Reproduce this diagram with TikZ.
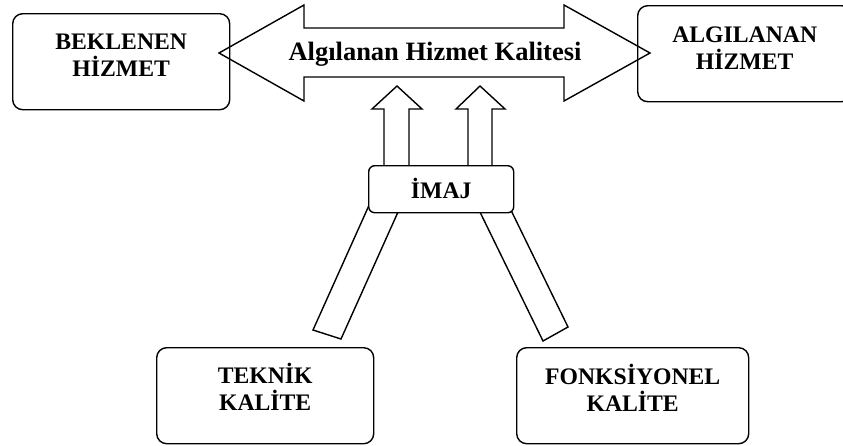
\documentclass[tikz,border=0pt]{standalone}
\usepackage{fontspec}
\setmainfont{Liberation Serif}
\begin{document}
\begin{tikzpicture}[x=1pt,y=-1pt, line width=1.4pt, line join=miter,
  box/.style={draw, rounded corners=10pt, inner sep=0pt, anchor=north west},
  lbl/.style={font=\fontsize{23.7}{27}\selectfont\bfseries, align=center, anchor=base, inner sep=0pt},
  bigarrow/.style={draw},
  blockarrow/.style={draw}]
\useasboundingbox (0,0) rectangle (843,445);
\fill[white] (0,0) rectangle (843,445);
\clip (0,0) rectangle (843,445);

% outer boxes
\node[box, minimum width=217pt, minimum height=96pt] (bek) at (12,13) {};
\node[box, minimum width=214pt, minimum height=96pt] (alg) at (637,5) {};
\node[box, minimum width=217pt, minimum height=96pt] (tek) at (156,347) {};
\node[box, minimum width=232pt, minimum height=96pt] (fon) at (516,347) {};

% box texts (base = baseline of the last line)
\node[lbl] (bekT) at ([yshift=-63pt]bek.north) {BEKLENEN\\HİZMET};
\node[lbl] (algT) at ([yshift=-64pt]alg.north) {ALGILANAN\\HİZMET};
\node[lbl] (tekT) at ([yshift=-63pt]tek.north) {TEKNİK\\KALİTE};
\node[lbl] (fonT) at ([yshift=-64pt]fon.north) {FONKSİYONEL\\KALİTE};

% big double arrow
\draw[bigarrow] (219,53) -- (304,5) -- (304,28) -- (564,28) -- (564,5) -- (650,53)
  -- (564,101) -- (564,77) -- (304,77) -- (304,101) -- cycle;
\node[font=\fontsize{26.5}{30}\selectfont\bfseries, anchor=base, inner sep=0pt] (aq) at (435,60) {Algılanan Hizmet Kalitesi};

% up arrows
\draw[blockarrow] (384,168) -- (384,109) -- (372,109) -- (397,86) -- (422,109) -- (409,109) -- (409,168);
\draw[blockarrow] (468,168) -- (468,109) -- (456,109) -- (480,86) -- (505,109) -- (492,109) -- (492,168);

% legs
\draw[blockarrow] (371.4,200) -- (313,330) -- (341,339) -- (403.4,200);
\draw[blockarrow] (474.1,200) -- (543,341) -- (568,327) -- (506,200);

% IMAJ box
\node[box, rounded corners=6pt, fill=white, minimum width=145pt, minimum height=47pt] (imaj) at (368,165) {};
\node[lbl] (imajT) at ([yshift=-33pt]imaj.north) {İMAJ};
\end{tikzpicture}
\end{document}
